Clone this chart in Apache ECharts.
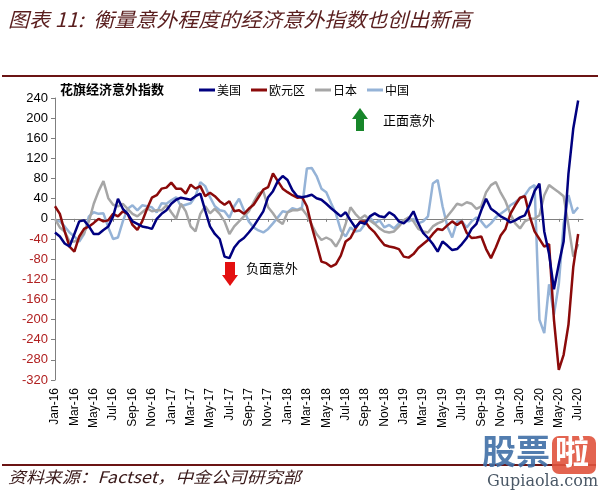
<!DOCTYPE html>
<html><head><meta charset="utf-8">
<script src="https://cdn.jsdelivr.net/npm/echarts@6/dist/echarts.min.js"></script>
<style>html,body{margin:0;padding:0;background:#fff}#c{width:600px;height:493px}</style>
</head><body><div id="c"></div>
<script>
// Semi-monthly categories, Jan 2016 - Jul 2020
const categories = [];
for (let y = 2016; y <= 2020; y++) {
  for (let m = 1; m <= 12; m++) {
    if (y === 2020 && m > 7) break;
    const mm = (m < 10 ? '0' : '') + m;
    categories.push(y + '-' + mm + '-01');
    categories.push(y + '-' + mm + '-16');
  }
}
const monthNames = ['Jan','Feb','Mar','Apr','May','Jun','Jul','Aug','Sep','Oct','Nov','Dec'];

const usData = [
 -27,-35,-49,-55,-30,-5,-3,-15,-30,-30,-22,-15,5,40,20,10,-5,-10,-15,-17,-20,0,10,17,
 30,38,42,40,38,45,50,17,-15,-30,-40,-75,-78,-57,-45,-38,-27,-15,0,15,43,55,75,85,
 77,57,45,43,45,48,41,38,30,21,13,5,13,-3,-17,-7,-10,5,11,5,3,13,7,-5,
 -9,0,15,-9,-28,-38,-50,-65,-45,-53,-62,-60,-50,-38,-20,-10,17,40,20,13,5,0,-7,-3,
 3,7,28,55,70,-25,-70,-140,-90,-45,90,180,235];
const euroData = [
 25,10,-25,-55,-65,-35,-20,-15,-8,0,-5,-3,10,5,15,10,-12,-22,-5,20,42,47,60,62,
 72,60,60,50,68,60,65,45,52,45,35,28,35,15,17,10,20,28,43,58,63,90,75,60,
 53,47,42,43,25,-15,-50,-85,-88,-95,-90,-73,-45,-38,-20,-5,-5,-18,-27,-40,-52,-55,-57,-60,
 -75,-77,-70,-58,-50,-42,-30,-20,-22,-13,-5,-12,-5,-28,-38,-37,-35,-60,-78,-57,-33,-20,10,27,
 42,45,5,-25,-40,-55,-50,-200,-300,-270,-210,-95,-30];
const japanData = [
 0,-17,-25,-45,-45,-40,-28,-5,30,55,75,41,28,25,30,20,10,5,13,21,15,17,17,27,
 13,0,30,15,-15,-25,10,25,11,20,10,-5,-30,-15,-5,5,15,33,50,55,23,11,-3,-10,
 13,17,17,20,7,-12,-30,-42,-37,-42,-55,-38,-10,23,10,0,7,-3,-10,-19,-25,-27,-25,-15,
 -3,3,-5,-20,-25,-27,-15,-9,-5,5,17,30,27,33,30,20,25,53,67,73,52,35,10,-9,
 -19,-5,0,0,7,47,67,60,53,45,-13,-75,-50];
const chinaData = [
 -3,-5,-15,-27,-35,-45,-30,5,13,10,11,-17,-40,-37,-5,20,27,17,27,25,23,13,31,30,
 37,43,25,28,31,45,73,65,43,25,17,15,2,25,40,17,-5,-17,-23,-27,-20,-9,3,15,
 13,21,18,23,100,101,85,60,53,31,10,-23,-35,-17,-25,-23,-10,3,-9,-3,-17,-12,-19,-9,
 -3,-5,0,-9,-5,5,70,77,25,-15,-37,-5,-5,-17,-5,3,-5,-17,-9,3,10,17,27,33,
 41,47,61,67,-200,-227,-130,-190,-130,-10,47,11,23];

const seriesNames = ['美国','欧元区','日本','中国'];
const seriesColors = ['#000080','#8B0A0A','#A6A6A6','#95B3D7'];
const yTicks = {min: -320, max: 240, interval: 40};

const chart = echarts.init(document.getElementById('c'));
const mk = (name, data, color) => ({
  name, type: 'line', data, symbol: 'none', xAxisIndex: 0,
  lineStyle: {width: 2.5, color}, itemStyle: {color}
});
const lbl = (i) => i % 4 === 0;
chart.setOption({
  animation: false,
  backgroundColor: '#fff',
  grid: {left: 55, right: 17, top: 98, bottom: 113},
  legend: {
    data: seriesNames, left: 199, top: 84, padding: 0,
    icon: 'rect', itemWidth: 16, itemHeight: 3, itemGap: 10,
    textStyle: {fontSize: 12, color: '#000', fontFamily: 'Noto Sans CJK SC', padding: [0,0,0,-3]}
  },
  xAxis: [{
    type: 'category', data: categories, boundaryGap: false, position: 'bottom',
    axisLine: {show: false, onZero: false}, axisTick: {show: false},
    axisLabel: {
      interval: lbl, rotate: 90, fontSize: 12, color: '#000',
      fontFamily: 'Liberation Sans', margin: 8,
      formatter: (v) => { const p = v.split('-'); return monthNames[+p[1]-1] + '-' + p[0].slice(2); }
    },
    splitLine: {show: false}
  }, {
    type: 'category', data: categories, boundaryGap: false, position: 'top',
    axisLine: {show: true, onZero: true, lineStyle: {color: '#7f7f7f', width: 1}},
    axisTick: {show: true, interval: lbl, length: 3, inside: true, lineStyle: {color: '#7f7f7f'}},
    axisLabel: {show: false}, splitLine: {show: false}
  }],
  yAxis: {
    type: 'value', min: yTicks.min, max: yTicks.max, interval: yTicks.interval,
    axisLine: {show: true, lineStyle: {color: '#7f7f7f', width: 1}},
    axisTick: {show: true, length: 4, lineStyle: {color: '#7f7f7f'}},
    splitLine: {show: false},
    axisLabel: {
      fontSize: 13, fontFamily: 'Liberation Sans', margin: 7,
      color: (v) => (+v < 0 ? '#B02020' : '#000')
    }
  },
  series: [
    mk(seriesNames[3], chinaData, seriesColors[3]),
    mk(seriesNames[2], japanData, seriesColors[2]),
    mk(seriesNames[1], euroData, seriesColors[1]),
    mk(seriesNames[0], usData, seriesColors[0])
  ],
  graphic: [
    {type: 'text', x: 8, y: 9, scaleX: 1.05, style: {text: '图表 11:  衡量意外程度的经济意外指数也创出新高', fontSize: 20, fontStyle: 'italic', fontFamily: 'Noto Sans CJK SC', fill: '#5a1e1e'}},
    {type: 'rect', shape: {x: 2, y: 75, width: 596, height: 2}, style: {fill: '#6b1414'}},
    {type: 'text', left: 60, top: 83, style: {text: '花旗经济意外指数', fontSize: 13, fontWeight: 'bold', fontFamily: 'Noto Sans CJK SC', fill: '#000'}},
    // green up arrow
    {type: 'polygon', shape: {points: [[352,119],[360,108],[368,119]]}, style: {fill: '#17862a'}},
    {type: 'rect', shape: {x: 356, y: 118, width: 8, height: 13}, style: {fill: '#17862a'}},
    {type: 'text', left: 383, top: 114, style: {text: '正面意外', fontSize: 13, fontFamily: 'Noto Sans CJK SC', fill: '#000'}},
    // red down arrow
    {type: 'rect', shape: {x: 225, y: 262, width: 10, height: 14}, style: {fill: '#e31010'}},
    {type: 'polygon', shape: {points: [[222,275],[230,286],[238,275]]}, style: {fill: '#e31010'}},
    {type: 'text', left: 246, top: 262, style: {text: '负面意外', fontSize: 13, fontFamily: 'Noto Sans CJK SC', fill: '#000'}},
    // footer
    {type: 'rect', shape: {x: 2, y: 464, width: 594, height: 2}, style: {fill: '#6b1414'}},
    {type: 'text', x: 8, y: 469, scaleX: 1.12, style: {text: '资料来源：Factset，中金公司研究部', fontSize: 16, fontStyle: 'italic', fontFamily: 'Noto Sans CJK SC', fill: '#3a1a1a'}},
    // watermark
    {type: 'text', left: 482, top: 434, style: {text: '股票', fontSize: 34, fontWeight: 'bold', fontFamily: 'Noto Sans CJK SC', fill: '#3f6fa6', opacity: 0.9}},
    {type: 'rect', shape: {x: 552, y: 436, width: 44, height: 38, r: 7}, style: {fill: '#e0533d', opacity: 0.9}},
    {type: 'text', left: 555, top: 434, style: {text: '啦', fontSize: 34, fontWeight: 'bold', fontFamily: 'Noto Sans CJK SC', fill: '#fff'}},
    {type: 'text', left: 487, top: 474, style: {text: 'Gupiaola.com', fontSize: 16, fontFamily: 'DejaVu Serif', fill: '#4a5866'}}
  ]
});
</script></body></html>
